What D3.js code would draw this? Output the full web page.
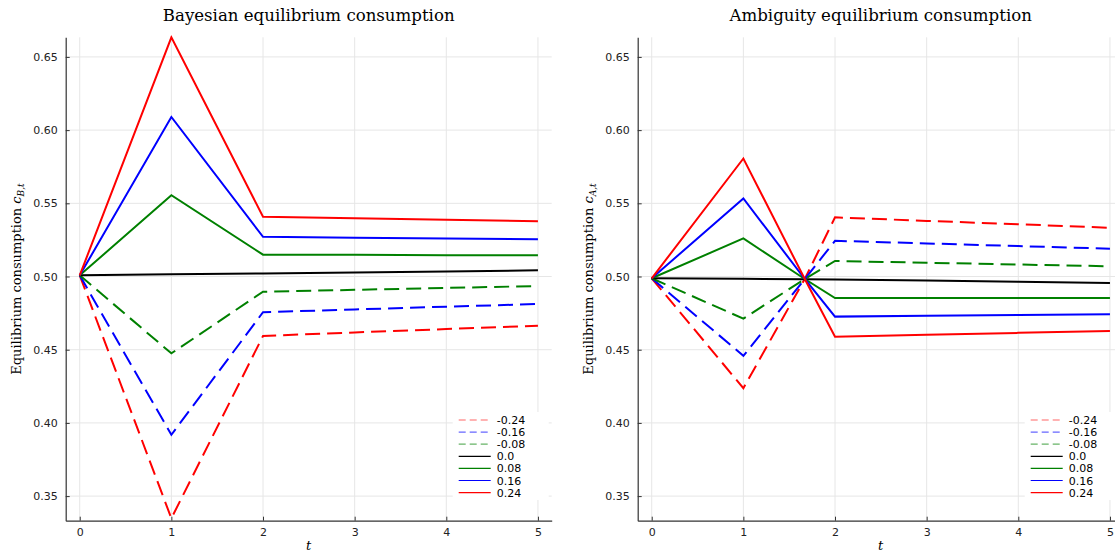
<!doctype html>
<html lang="en">
<head>
	<meta charset="UTF-8">
	<title>equilibrium consumption | d3</title>
	<style>
		body { margin: 0; background: #fff; }
		.tick-label { font-family: "DejaVu Sans", sans-serif; font-size: 11px; fill: #222; }
		.title { font-family: "DejaVu Serif", serif; font-size: 16.6px; fill: #000; }
		.axis-label { font-family: "DejaVu Serif", serif; font-size: 13px; fill: #000; }
		.legend-label { font-family: "DejaVu Sans", sans-serif; font-size: 11px; fill: #000; }
	</style>
</head>
<body>
	<script src="https://cdn.jsdelivr.net/npm/d3@7"></script>
	<script>
		// time points
		var tBayes = [0, 1, 2, 3, 4, 5],
			tAmb = [0, 1, 1.67, 2, 3, 4, 5];

		var seriesLabels = ['-0.24', '-0.16', '-0.08', '0.0', '0.08', '0.16', '0.24'];

		// Bayesian equilibrium consumption, one array per shock
		var bayesM024 = [0.5008, 0.3348, 0.4594, 0.4618, 0.4641, 0.4664],
			bayesM016 = [0.5008, 0.3919, 0.4756, 0.4775, 0.4794, 0.4812],
			bayesM008 = [0.5008, 0.4475, 0.4896, 0.4909, 0.4922, 0.4935],
			bayes0    = [0.5008, 0.5015, 0.5021, 0.5028, 0.5035, 0.5042],
			bayesP008 = [0.5008, 0.5555, 0.5149, 0.5148, 0.5146, 0.5145],
			bayesP016 = [0.5008, 0.6090, 0.5271, 0.5265, 0.5260, 0.5254],
			bayesP024 = [0.5008, 0.6634, 0.5408, 0.5398, 0.5387, 0.5377];

		// Ambiguity equilibrium consumption
		var ambM024 = [0.4988, 0.4237, 0.4983, 0.5404, 0.5380, 0.5357, 0.5333],
			ambM016 = [0.4988, 0.4458, 0.4983, 0.5244, 0.5226, 0.5208, 0.5190],
			ambM008 = [0.4988, 0.4712, 0.4983, 0.5106, 0.5094, 0.5082, 0.5070],
			amb0    = [0.4988, 0.4984, 0.4981, 0.4979, 0.4972, 0.4964, 0.4956],
			ambP008 = [0.4988, 0.5260, 0.4983, 0.4853, 0.4853, 0.4853, 0.4853],
			ambP016 = [0.4988, 0.5533, 0.4983, 0.4726, 0.4732, 0.4737, 0.4743],
			ambP024 = [0.4988, 0.5806, 0.4983, 0.4589, 0.4602, 0.4615, 0.4628];

		var xTicks = [0, 1, 2, 3, 4, 5],
			yTicks = [0.35, 0.40, 0.45, 0.50, 0.55, 0.60, 0.65];

		// styling per series (same order as seriesLabels)
		var colors = ['#ff0000', '#0000ff', '#008000', '#000000', '#008000', '#0000ff', '#ff0000'],
			isDashed = [true, true, true, false, false, false, false];

		var w = 1115,
			h = 558,
			plotW = 486,
			plotTop = 37.3,
			plotBottom = 520.7,
			xDomain = [-0.153, 5.15],
			yDomain = [0.3332, 0.6634];

		var svg = d3.select('body')
			.append('svg')
			.attr('width', w)
			.attr('height', h);

		/**
		* draw one panel
		*/
		var drawPanel = function(id, left, titleText, subscript, tVals, data) {
			var xScale = d3.scaleLinear().domain(xDomain).range([left, left + plotW]);
			var yScale = d3.scaleLinear().domain(yDomain).range([plotBottom, plotTop]);

			var g = svg.append('g');

			svg.append('clipPath')
				.attr('id', 'clip-' + id)
				.append('rect')
				.attr('x', left)
				.attr('y', plotTop - 2)
				.attr('width', plotW)
				.attr('height', plotBottom - plotTop + 4);

			// grid
			g.selectAll('.vgrid')
				.data(xTicks)
				.enter()
				.append('line')
				.attr('x1', function(d) { return xScale(d); })
				.attr('x2', function(d) { return xScale(d); })
				.attr('y1', plotTop)
				.attr('y2', plotBottom)
				.attr('stroke', '#e6e6e6')
				.attr('stroke-width', 1);

			g.selectAll('.hgrid')
				.data(yTicks)
				.enter()
				.append('line')
				.attr('x1', left)
				.attr('x2', left + plotW)
				.attr('y1', function(d) { return yScale(d); })
				.attr('y2', function(d) { return yScale(d); })
				.attr('stroke', '#e6e6e6')
				.attr('stroke-width', 1);

			// lines
			var line = d3.line()
				.x(function(d, i) { return xScale(tVals[i]); })
				.y(function(d) { return yScale(d); });

			var lines = g.append('g').attr('clip-path', 'url(#clip-' + id + ')');
			lines.selectAll('path')
				.data(data)
				.enter()
				.append('path')
				.attr('d', function(d) { return line(d); })
				.attr('fill', 'none')
				.attr('stroke', function(d, i) { return colors[i]; })
				.attr('stroke-width', 2)
				.attr('stroke-linejoin', 'miter')
				.attr('stroke-dasharray', function(d, i) { return isDashed[i] ? '15,7' : null; });

			// axes
			var xAxis = d3.axisBottom(xScale)
				.tickValues(xTicks)
				.tickFormat(d3.format('d'))
				.tickSizeInner(-4)
				.tickSizeOuter(0)
				.tickPadding(8);

			var yAxis = d3.axisLeft(yScale)
				.tickValues(yTicks)
				.tickFormat(d3.format('.2f'))
				.tickSizeInner(-4)
				.tickSizeOuter(0)
				.tickPadding(8);

			var gx = g.append('g')
				.attr('transform', 'translate(0,' + plotBottom + ')')
				.call(xAxis);
			var gy = g.append('g')
				.attr('transform', 'translate(' + left + ',0)')
				.call(yAxis);

			[gx, gy].forEach(function(a) {
				a.select('.domain').attr('stroke', '#333').attr('stroke-width', 1.2);
				a.selectAll('.tick line').attr('stroke', '#333');
				a.selectAll('.tick text').attr('class', 'tick-label').attr('font-size', null).attr('font-family', null);
			});
			gy.selectAll('.tick text').attr('x', -8);

			// legend
			var legX = left + 387,
				legY = 412;
			var leg = g.append('g');
			leg.append('rect')
				.attr('x', legX)
				.attr('y', legY)
				.attr('width', 96)
				.attr('height', 88)
				.attr('fill', '#fff');

			var rows = leg.selectAll('.row')
				.data(seriesLabels)
				.enter()
				.append('g')
				.attr('transform', function(d, i) { return 'translate(' + legX + ',' + (legY + 8 + i * 12.1) + ')'; });

			rows.append('line')
				.attr('x1', 6)
				.attr('x2', 38)
				.attr('y1', 0)
				.attr('y2', 0)
				.attr('stroke', function(d, i) { return colors[i]; })
				.attr('stroke-opacity', function(d, i) { return isDashed[i] ? 0.6 : 1; })
				.attr('stroke-width', 1.2)
				.attr('stroke-dasharray', function(d, i) { return isDashed[i] ? '7,4' : null; });

			rows.append('text')
				.attr('class', 'legend-label')
				.attr('x', 44)
				.attr('y', 4)
				.text(function(d) { return d; });

			// titles
			var cx = left + plotW / 2;
			g.append('text')
				.attr('class', 'title')
				.attr('x', cx)
				.attr('y', 21)
				.attr('text-anchor', 'middle')
				.text(titleText);

			g.append('text')
				.attr('class', 'axis-label')
				.attr('x', cx)
				.attr('y', 550)
				.attr('text-anchor', 'middle')
				.attr('font-style', 'italic')
				.text('t');

			var yl = g.append('text')
				.attr('class', 'axis-label')
				.attr('transform', 'translate(' + (left - 45) + ',' + ((plotTop + plotBottom) / 2) + ') rotate(-90)')
				.attr('text-anchor', 'middle');
			yl.append('tspan').text('Equilibrium consumption ');
			yl.append('tspan').attr('font-style', 'italic').text('c');
			yl.append('tspan')
				.attr('font-style', 'italic')
				.attr('font-size', '9px')
				.attr('dy', 3)
				.text(subscript);
		};

		drawPanel('b', 65.7, 'Bayesian equilibrium consumption', 'B,t', tBayes,
			[bayesM024, bayesM016, bayesM008, bayes0, bayesP008, bayesP016, bayesP024]);
		drawPanel('a', 637.7, 'Ambiguity equilibrium consumption', 'A,t', tAmb,
			[ambM024, ambM016, ambM008, amb0, ambP008, ambP016, ambP024]);
	</script>
</body>
</html>
